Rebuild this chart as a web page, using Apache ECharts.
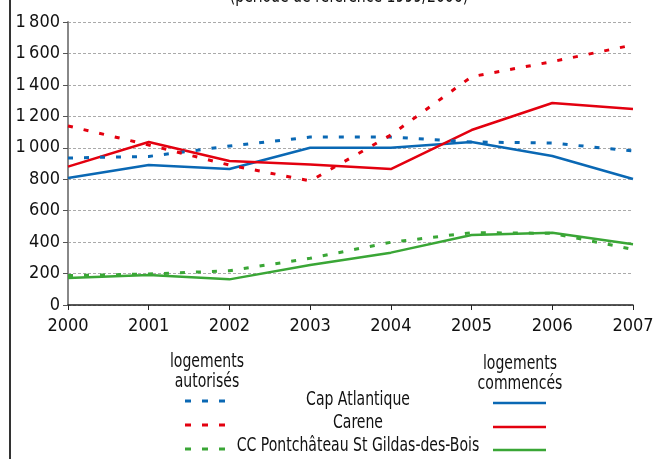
<!DOCTYPE html>
<html>
<head>
<meta charset="utf-8">
<script src="https://cdn.jsdelivr.net/npm/echarts@6/dist/echarts.min.js"></script>
<style>
html,body{margin:0;padding:0;background:#fff;}
#c{width:670px;height:459px;}
</style>
</head>
<body>
<div id="c"></div>
<script>
const years = ['2000','2001','2002','2003','2004','2005','2006','2007'];
const capAutorises = [935, 945, 1011, 1068, 1068, 1037, 1030, 980];
const capCommences = [808, 890, 865, 1000, 1000, 1037, 948, 801];
const careneAutorises = [1139, 1018, 890, 789, 1081, 1452, 1548, 1654];
const careneCommences = [880, 1037, 916, 893, 865, 1113, 1285, 1247];
const ccpAutorises = [187, 197, 218, 297, 399, 460, 456, 354];
const ccpCommences = [172, 191, 163, 254, 333, 445, 460, 386];
const yTicks = [0, 200, 400, 600, 800, 1000, 1200, 1400, 1600, 1800];

const FONT = "'Liberation Sans Narrow', 'DejaVu Sans Condensed', sans-serif";
const BLUE = '#0a68b4', RED = '#e3000f', GREEN = '#3aa636';
const DASH = [5, 11];

function fmt(v){ return String(v).replace(/\B(?=(\d{3})+(?!\d))/g, '\u2009'); }

function line(name, data, color, dashed){
  return {
    name, type:'line', data, symbol:'none', silent:true,
    lineStyle:{color, width: dashed ? 3 : 2.5, type: dashed ? DASH : 'solid'},
    z: dashed ? 3 : 2
  };
}

const chart = echarts.init(document.getElementById('c'));
const SX = 0.78;
const txt = (x, y, s, vAlign) => ({type:'text', x, y, scaleX:SX, style:{text:s, font:'20px ' + FONT, fill:'#111', textAlign:'center', textVerticalAlign: vAlign || 'middle'}});
const seg = (x1, x2, y, color, dashed) => ({type:'line', shape:{x1, y1:y, x2, y2:y}, style:{stroke:color, lineWidth: dashed ? 3 : 2.5, lineDash: dashed ? [6, 11] : null}});

chart.setOption({
  animation:false,
  grid:{left:68, right:37, top:22, bottom:154, containLabel:false},
  xAxis:{
    type:'category', data:years, boundaryGap:false,
    axisLine:{lineStyle:{color:'#222', width:1.5}},
    axisTick:{show:true, length:5, lineStyle:{color:'#222'}},
    axisLabel:{fontFamily:FONT, fontSize:18, color:'#111', margin:12}
  },
  yAxis:{
    type:'value', min:0, max:1800, interval:200,
    axisLine:{show:true, lineStyle:{color:'#888', width:2}},
    axisTick:{show:true, length:5, lineStyle:{color:'#555'}},
    axisLabel:{fontFamily:FONT, fontSize:18, color:'#111', margin:8, formatter:(v)=> yTicks.includes(v) ? fmt(v) : ''},
    splitLine:{lineStyle:{color:'#aaa', type:[3,2], width:1}}
  },
  series:[
    line('Cap Atlantique autorisés', capAutorises, BLUE, true),
    line('Carene autorisés', careneAutorises, RED, true),
    line('CC Pontchâteau autorisés', ccpAutorises, GREEN, true),
    line('Cap Atlantique commencés', capCommences, BLUE, false),
    line('Carene commencés', careneCommences, RED, false),
    line('CC Pontchâteau commencés', ccpCommences, GREEN, false)
  ],
  graphic:[
    {type:'line', shape:{x1:10, y1:0, x2:10, y2:459}, style:{stroke:'#333', lineWidth:2}},
    txt(349, 7, '(période de référence 1999/2006)', 'bottom'),
    txt(207, 362, 'logements'),
    txt(207, 382, 'autorisés'),
    txt(520, 364, 'logements'),
    txt(520, 384, 'commencés'),
    txt(358, 400, 'Cap Atlantique'),
    txt(358, 423, 'Carene'),
    txt(358, 446, 'CC Pontchâteau St Gildas-des-Bois'),
    seg(185, 225, 401, BLUE, true),
    seg(185, 225, 425, RED, true),
    seg(185, 225, 449, GREEN, true),
    seg(493, 546, 403, BLUE, false),
    seg(493, 546, 427, RED, false),
    seg(493, 546, 450, GREEN, false)
  ]
});
</script>
</body>
</html>
